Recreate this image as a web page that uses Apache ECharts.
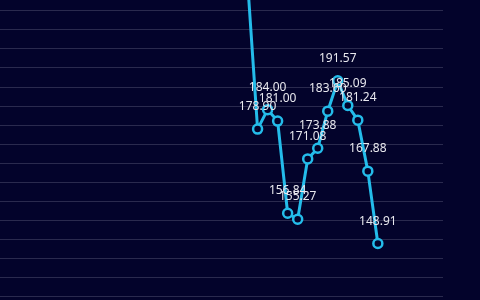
<!DOCTYPE html>
<html>
<head>
<meta charset="utf-8">
<script src="https://cdn.jsdelivr.net/npm/echarts@6/dist/echarts.min.js"></script>
<style>
html,body{margin:0;padding:0;background:#03032b;}
#c{width:480px;height:300px;}
</style>
</head>
<body>
<div id="c"></div>
<script>
// Data
const categories = ['P0','P1','P2','P3','P4','P5','P6','P7','P8','P9','P10','P11','P12','P13'];
const values = [217.7, 178.90, 184.00, 181.00, 156.84, 155.27, 171.08, 173.88, 183.60, 191.57, 185.09, 181.24, 167.88, 148.91];
const yTicks = {min: 130, max: 225, interval: 5};

const seriesData = categories.map((c, i) => [i, values[i]]);

const chart = echarts.init(document.getElementById('c'), null, {renderer: 'canvas'});
chart.setOption({
  backgroundColor: '#03032b',
  animation: false,
  grid: {left: 0, right: 37, top: -46.7, bottom: -15.6, containLabel: false, outerBoundsMode: 'none'},
  xAxis: {
    type: 'value',
    min: -24.7,
    max: 19.5,
    axisLine: {show: false},
    axisTick: {show: false},
    axisLabel: {show: false},
    splitLine: {show: false}
  },
  yAxis: {
    type: 'value',
    min: yTicks.min,
    max: yTicks.max,
    interval: yTicks.interval,
    axisLine: {show: false},
    axisTick: {show: false},
    axisLabel: {show: false},
    splitLine: {show: true, lineStyle: {color: '#2a2a4e', width: 1}}
  },
  series: [{
    type: 'line',
    data: seriesData,
    symbol: 'circle',
    symbolSize: 9,
    lineStyle: {color: '#24bcea', width: 3},
    itemStyle: {color: '#03032b', borderColor: '#24bcea', borderWidth: 2.5},
    label: {
      show: true,
      position: 'top',
      distance: 10.5,
      color: '#e8e8ee',
      fontSize: 12,
      fontFamily: 'Noto Sans',
      formatter: p => p.value[1].toFixed(2)
    }
  }]
});
</script>
</body>
</html>
